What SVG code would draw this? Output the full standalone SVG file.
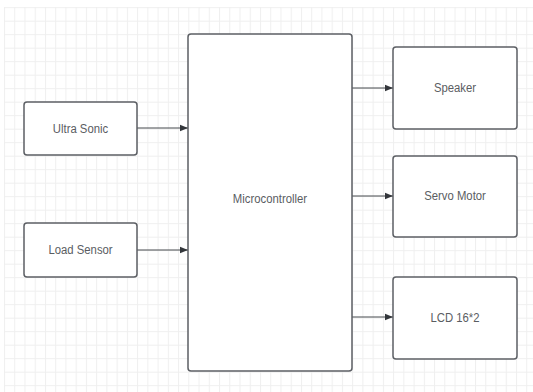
<svg xmlns="http://www.w3.org/2000/svg" width="533" height="392" viewBox="0 0 533 392">
<style>
.box{fill:#ffffff;stroke:#5c5f64;stroke-width:1.5}
.lbl{font-family:"Liberation Sans","Roboto",sans-serif;font-size:13.5px;fill:#5a5d62;text-anchor:middle;dominant-baseline:central}
.edge{stroke:#45484d;stroke-width:1;fill:none;marker-end:url(#arr)}
</style>
<defs>
<pattern id="grid" x="4" y="7.2" width="10.24" height="13.5" patternUnits="userSpaceOnUse">
<path d="M0.5 0V13.5M0 0.5H10.24" stroke="#efefef" stroke-width="1" fill="none"/>
</pattern>
<marker id="arr" viewBox="0 0 10 10" refX="10" refY="5" markerWidth="8" markerHeight="8" markerUnits="userSpaceOnUse" orient="auto">
<path d="M0 1L10 5L0 9Z" fill="#33363b"/>
</marker>
</defs>
<rect width="533" height="392" fill="#ffffff"/>
<rect x="4" y="7" width="529" height="385" fill="url(#grid)"/>
<g id="connectors">
<path class="edge" d="M137 128H188"/>
<path class="edge" d="M137 250H188"/>
<path class="edge" d="M352 88H393"/>
<path class="edge" d="M352 196H393"/>
<path class="edge" d="M352 317H393"/>
</g>
<g id="ultrasonic"><rect class="box" x="24" y="102" width="113" height="53" rx="3"/><text class="lbl" transform="translate(80.5 128.5) scale(0.84 1)">Ultra Sonic</text></g>
<g id="loadsensor"><rect class="box" x="24" y="223" width="113" height="54" rx="3"/><text class="lbl" transform="translate(80.5 250) scale(0.84 1)">Load Sensor</text></g>
<g id="microcontroller"><rect class="box" x="188" y="34" width="164" height="337" rx="3"/><text class="lbl" transform="translate(270 199) scale(0.84 1)">Microcontroller</text></g>
<g id="speaker"><rect class="box" x="393" y="47" width="124" height="82" rx="3"/><text class="lbl" transform="translate(455 88) scale(0.84 1)">Speaker</text></g>
<g id="servo"><rect class="box" x="393" y="156" width="124" height="81" rx="3"/><text class="lbl" transform="translate(455 196) scale(0.84 1)">Servo Motor</text></g>
<g id="lcd"><rect class="box" x="393" y="277" width="124" height="82" rx="3"/><text class="lbl" transform="translate(455 318) scale(0.84 1)">LCD 16*2</text></g>
</svg>
